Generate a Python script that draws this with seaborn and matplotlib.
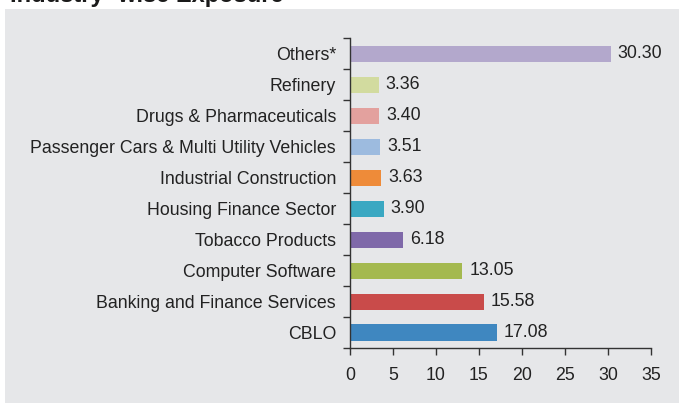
import pandas as pd
import matplotlib
matplotlib.use("Agg")
import matplotlib.pyplot as plt
import seaborn as sns
from matplotlib.patches import Rectangle
from matplotlib.ticker import FixedLocator

# data (top to bottom as in the chart)
industries = [
    "Others*",
    "Refinery",
    "Drugs & Pharmaceuticals",
    "Passenger Cars & Multi Utility Vehicles",
    "Industrial Construction",
    "Housing Finance Sector",
    "Tobacco Products",
    "Computer Software",
    "Banking and Finance Services",
    "CBLO",
]
exposure = [30.30, 3.36, 3.40, 3.51, 3.63, 3.90, 6.18, 13.05, 15.58, 17.08]
bar_colors = [
    "#b3a8cc", "#d2db9f", "#e3a19e", "#9dbbdf", "#ee8b39",
    "#3aa8c2", "#7f69a9", "#a4b94f", "#c94b4a", "#3f87c0",
]
x_ticks = [0, 5, 10, 15, 20, 25, 30, 35]

df = pd.DataFrame({"industry": industries, "exposure": exposure})

sns.set_theme(style="white")
plt.rcParams["font.family"] = ["Liberation Sans", "DejaVu Sans"]

fs = 12.8

fig = plt.figure(figsize=(6.79, 4.03), dpi=100)
fig.patch.set_facecolor("white")
# grey panel behind the chart
fig.patches.append(Rectangle((5 / 679, 0), 1, 1 - 9 / 403, transform=fig.transFigure,
                             facecolor="#e6e7e9", edgecolor="none", zorder=-5))

fig.text(0.014, 1 - 2 / 403, "Industry -wise Exposure", fontsize=17, fontweight="bold",
         color="#1a1a1a", va="baseline", ha="left")

ax = fig.add_axes([350 / 679, 1 - 348 / 403, 301 / 679, 309.5 / 403])
ax.set_facecolor("none")
ax.set_zorder(2)

sns.barplot(data=df, x="exposure", y="industry", hue="industry",
            palette=dict(zip(industries, bar_colors)), legend=False,
            orient="h", width=0.52, saturation=1, linewidth=0, ax=ax)

for cont in ax.containers:
    ax.bar_label(cont, fmt="%.2f", padding=5, fontsize=fs, color="#222222")

ax.set_xlim(0, 35)
ax.set_ylim(len(industries) - 0.5, -0.5)
ax.set_xticks(x_ticks)
ax.set_xlabel("")
ax.set_ylabel("")

for side in ["top", "right"]:
    ax.spines[side].set_visible(False)
for side in ["left", "bottom"]:
    ax.spines[side].set_color("#333333")
    ax.spines[side].set_linewidth(1.0)

# y ticks sit between categories
ax.yaxis.set_minor_locator(FixedLocator([i - 0.5 for i in range(len(industries) + 1)]))
ax.tick_params(axis="y", which="major", length=0, pad=10, labelsize=fs, labelcolor="#222222")
ax.tick_params(axis="y", which="minor", left=True, length=5, width=1, color="#333333")
ax.tick_params(axis="x", which="major", bottom=True, length=5, width=1, color="#333333",
               pad=9, labelsize=fs, labelcolor="#222222")

fig.savefig("out.png", dpi=100)
